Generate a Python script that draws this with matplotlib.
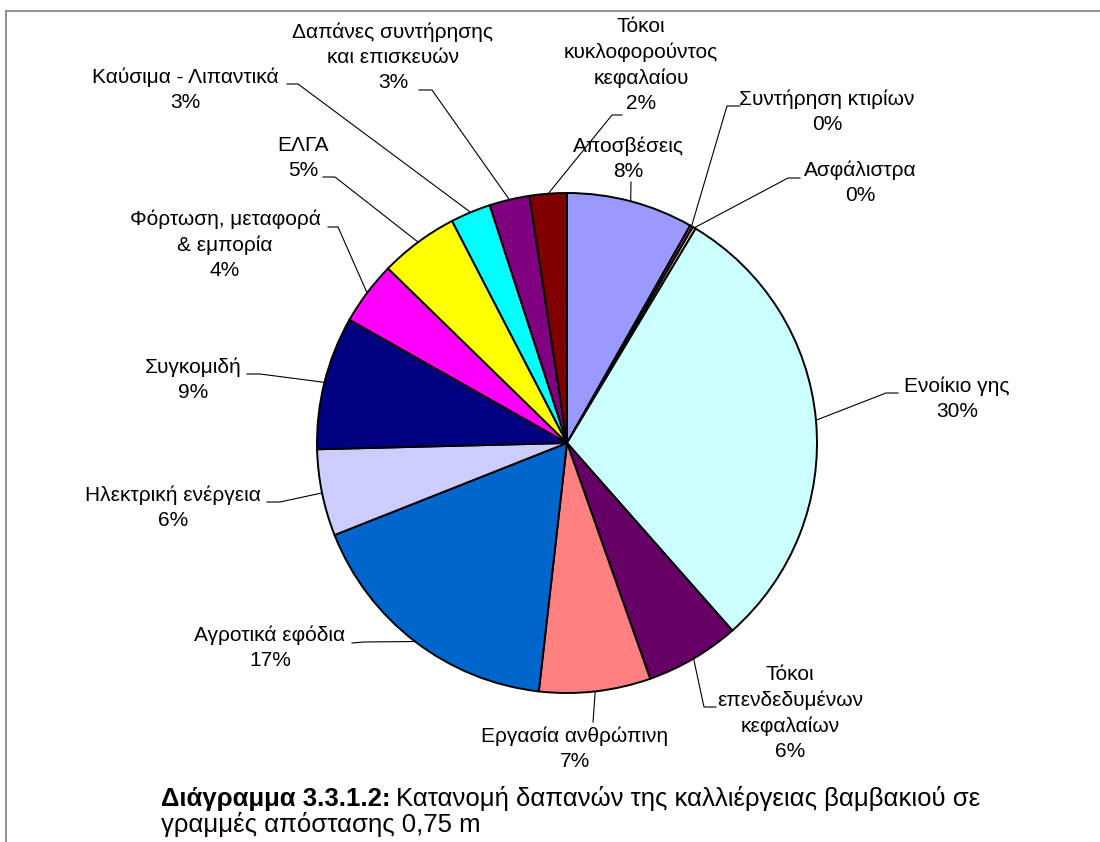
import matplotlib.pyplot as plt
import numpy as np
from matplotlib.lines import Line2D

plt.rcParams['font.family'] = ['Liberation Sans', 'DejaVu Sans']

# cost categories, clockwise from 12 o'clock
labels = [
    'Αποσβέσεις',
    'Συντήρηση κτιρίων',
    'Ασφάλιστρα',
    'Ενοίκιο γης',
    'Τόκοι\nεπενδεδυμένων\nκεφαλαίων',
    'Εργασία ανθρώπινη',
    'Αγροτικά εφόδια',
    'Ηλεκτρική ενέργεια',
    'Συγκομιδή',
    'Φόρτωση, μεταφορά\n& εμπορία',
    'ΕΛΓΑ',
    'Καύσιμα - Λιπαντικά',
    'Δαπάνες συντήρησης\nκαι επισκευών',
    'Τόκοι\nκυκλοφορούντος\nκεφαλαίου',
]
shares = [8.2, 0.2, 0.2, 29.9, 6.1, 7.2, 17.2, 5.6, 8.6, 4.1, 5.1, 2.6, 2.6, 2.4]
colors = ['#9999FF', '#993366', '#FFFFCC', '#CCFFFF', '#660066', '#FF8080',
          '#0066CC', '#CCCCFF', '#000080', '#FF00FF', '#FFFF00', '#00FFFF',
          '#800080', '#800000']

# label centres, leader elbows and stub ends (pixels, origin top-left)
label_pos = [(628, 159), (827, 112), (860, 183), (957, 399), (790, 713),
             (575, 749), (270, 648), (173, 508), (193, 380), (225, 245),
             (303, 158), (185, 90), (393, 57), (641, 65)]
elbow_pos = [(631, 182), (727, 106), (788, 178), (886, 393), (704, 707),
             (593, 722), (364, 642), (280, 502), (260, 374), (338, 227),
             (335, 177), (298, 84), (432, 90), (612, 115)]
stub_pos = [(631, 182), (740, 106), (800, 178), (898, 393), (716, 707),
            (593, 722), (352, 643), (267, 502), (247, 374), (328, 227),
            (323, 177), (287, 84), (419, 90), (622, 115)]

W, H = 1100, 842
fig = plt.figure(figsize=(W / 100, H / 100), dpi=100)


def fpos(x, y):
    return x / W, 1 - y / H


ax = fig.add_axes([317 / W, 1 - 693 / H, 500 / W, 500 / H])
wedges, _ = ax.pie(shares, colors=colors, startangle=90, counterclock=False,
                   wedgeprops=dict(edgecolor='black', linewidth=1.4))
ax.set_xlim(-1, 1)
ax.set_ylim(-1, 1)
ax.set_aspect('equal')
ax.axis('off')

to_fig = ax.transData + fig.transFigure.inverted()

for w, lab, v, lp, ep, sp in zip(wedges, labels, shares, label_pos, elbow_pos, stub_pos):
    mid = np.deg2rad((w.theta1 + w.theta2) / 2)
    rim = to_fig.transform((np.cos(mid), np.sin(mid)))
    xs = [rim[0], fpos(*ep)[0], fpos(*sp)[0]]
    ys = [rim[1], fpos(*ep)[1], fpos(*sp)[1]]
    fig.add_artist(Line2D(xs, ys, transform=fig.transFigure, color='black', lw=0.8))
    fig.text(*fpos(*lp), f'{lab}\n{round(v)}%', ha='center', va='center',
             fontsize=15, linespacing=1.4)

# frame edges
fig.add_artist(Line2D([6 / W, 1], [1 - 11 / H, 1 - 11 / H], transform=fig.transFigure,
                      color='#808080', lw=1.2))
fig.add_artist(Line2D([6 / W, 6 / W], [0, 1 - 11 / H], transform=fig.transFigure,
                      color='#808080', lw=1.2))

cap = fig.text(*fpos(161, 806), 'Διάγραμμα 3.3.1.2:', fontsize=18.5,
               fontweight='bold', va='baseline')
ax.annotate('Κατανομή δαπανών της καλλιέργειας βαμβακιού σε', xy=(1, 0),
            xycoords=cap, xytext=(4, 0), textcoords='offset points',
            va='bottom', fontsize=18.5, annotation_clip=False)
fig.text(*fpos(161, 832), 'γραμμές απόστασης 0,75 m', fontsize=18.5, va='baseline')

fig.savefig('out.png', dpi=100)
